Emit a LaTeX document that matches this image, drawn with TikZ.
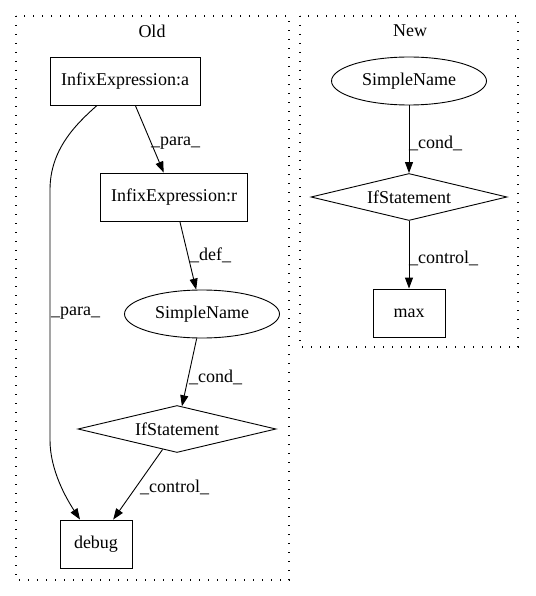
\documentclass[tikz,border=0pt]{standalone}
\usepackage{fontspec}
\setmainfont{Liberation Serif}
\usetikzlibrary{shapes.geometric,arrows.meta}
\begin{document}
\begin{tikzpicture}[x=1pt,y=-1pt,
  every node/.style={font=\fontsize{18pt}{20pt}\selectfont},
  cluster/.style={draw,line width=1.2pt,dash pattern=on 1.2pt off 7.8pt},
  boxn/.style={draw,rectangle,minimum height=48pt,inner sep=0pt,line width=0.9pt},
  elln/.style={draw,ellipse,minimum height=48pt,inner sep=0pt,line width=0.9pt},
  diam/.style={draw,diamond,aspect=4.2,inner sep=0pt,line width=0.9pt},
  edge/.style={draw,line width=0.9pt,-{Triangle[length=11pt,width=8pt]}},
  lab/.style={inner sep=0pt,anchor=west}
]
\useasboundingbox (0,0) rectangle (535,596);
\draw[cluster] (16,16) rectangle (289,580);
\draw[cluster] (300,16) rectangle (518,347);
\node[inner sep=0pt] (oldt) at (152,31) {Old};
\node[inner sep=0pt] (newt) at (410,31) {New};

% Old
\node[boxn,minimum width=150pt] (ia) at (125,81) {InfixExpression:a};
\node[boxn,minimum width=147pt] (ir) at (174,197) {InfixExpression:r};
\node[elln,minimum width=155pt] (sn1) at (202,314) {SimpleName};
\node[diam,minimum width=198pt,minimum height=47pt] (if1) at (177,429) {IfStatement};
\node[boxn,minimum width=72pt] (dbg) at (96,544) {debug};

\path[edge] (ia) -- (ir);
\path[edge] (ir) -- (sn1);
\path[edge] (sn1) -- (if1);
\path[edge] (if1) -- (dbg);
\path[edge] ([xshift=-28pt]ia.south) .. controls (75,125) and (50,150) .. (50,190)
   -- (50,440) .. controls (50,470) and (66,498) .. ([xshift=-16pt]dbg.north);

\node[lab] (l1) at (151,143) {\_para\_};
\node[lab] (l2) at (190,255) {\_def\_};
\node[lab] (l3) at (189,377) {\_cond\_};
\node[lab] (l4) at (140,487) {\_control\_};
\node[lab] (l5) at (51,313) {\_para\_};

% New
\node[elln,minimum width=155pt] (sn2) at (409,81) {SimpleName};
\node[diam,minimum width=196pt,minimum height=47pt] (if2) at (409,197) {IfStatement};
\node[boxn,minimum width=72pt] (mx) at (409,313) {max};
\path[edge] (sn2) -- (if2);
\path[edge] (if2) -- (mx);
\node[lab] (l6) at (409,143) {\_cond\_};
\node[lab] (l7) at (409,258) {\_control\_};
\end{tikzpicture}
\end{document}
